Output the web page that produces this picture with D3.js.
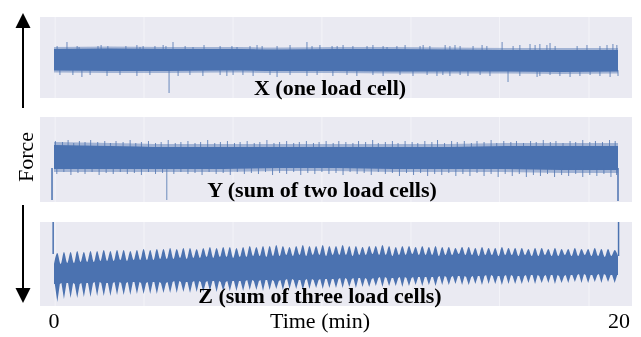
<!DOCTYPE html>
<html>
<head>
<meta charset="utf-8">
<script src="https://cdn.jsdelivr.net/npm/d3@7"></script>
<style>
  body { margin: 0; background: #fff; }
  svg { display: block; }
  .panel-label { font-family: "Liberation Serif", "Times New Roman", serif; font-weight: bold; font-size: 22px; }
  .axis-text { font-family: "Liberation Serif", "Times New Roman", serif; font-size: 22px; }
</style>
</head>
<body>
<svg id="chart" width="641" height="337"></svg>
<script>
// ---- data (force in arbitrary units, time in minutes) ----
const timeDomain = [0, 20];
const gridTimes = [0.04, 3.19, 6.35, 9.5, 12.66, 15.8, 18.97];
const bandTimes = [0, 2, 4, 6, 8, 10, 12, 14, 16, 18, 20];

// X (one load cell)
const xCoreTop = [49, 49.5, 49, 49, 48.5, 49, 49, 48.5, 48, 48, 48];
const xCoreBot = [27.5, 27, 27, 27.5, 27, 27, 26.5, 26.5, 26.5, 26, 26.5];
const xSpikesUp = [[0.11,52],[0.46,56],[0.82,52],[0.89,51],[1.56,52],[1.67,53],[1.91,52],[2.55,52],[2.94,53],[3.05,51],[3.16,52],[3.58,52],[3.87,53],[3.97,52],[4.22,56],[4.65,52],[4.93,51],[5.32,53],[5.89,52],[6.31,52],[6.49,51],[6.95,52],[7.2,53],[7.38,52],[7.91,52],[8.37,53],[8.97,56],[9.15,52],[9.43,53],[9.86,52],[10.04,52],[10.25,53],[10.6,52],[11.1,52],[11.31,53],[11.67,52],[11.81,51],[12.16,52],[12.45,53],[12.98,52],[13.09,53],[13.33,52],[13.87,53],[14.04,52],[14.22,53],[14.4,52],[14.86,52],[15.18,53],[15.35,52],[15.89,56],[16.28,52],[16.52,53],[16.88,54],[17.06,53],[17.23,54],[17.48,53],[17.59,55],[17.77,52],[18.55,52],[18.9,53],[19.36,52],[19.61,53],[19.82,54],[19.96,53]];
const xSpikesDown = [[0.21,23],[0.67,23],[0.99,21],[1.28,23],[1.88,22],[2.34,23],[2.94,22],[3.4,23],[4.08,5],[4.4,22],[4.82,23],[5.28,22],[5.89,23],[6.13,22],[6.35,23],[6.7,23],[7.06,22],[7.66,23],[7.91,21],[8.37,23],[8.97,22],[9.33,23],[9.89,22],[10.39,23],[10.74,22],[11.31,23],[11.67,22],[12.27,23],[12.73,22],[13.23,23],[13.58,22],[13.79,23],[14.04,22],[14.4,23],[14.68,22],[15.11,23],[15.46,22],[16.1,16],[16.52,22],[17.13,21],[17.23,22],[17.59,23],[17.94,22],[18.3,21],[18.65,22],[19.01,23],[19.36,22],[19.72,21],[20.0,22]];

// Y (sum of two load cells)
const yCoreTop = [57, 56, 55, 55, 55, 55, 55, 55, 56, 56, 56];
const yCoreBot = [33, 33, 33, 33, 34, 34, 33, 33, 33, 32, 32];
const ySpikesUp = [[0.05,61],[0.3,60],[0.5,62],[0.7,59],[0.9,61],[1.1,60],[1.3,62],[1.55,60],[1.8,61],[2.0,59],[2.2,61],[2.45,60],[2.7,62],[2.9,59],[3.1,60],[3.35,61],[3.6,59],[3.8,60],[4.05,62],[4.3,59],[4.5,60],[4.75,61],[5.0,59],[5.2,60],[5.45,62],[5.7,59],[5.9,60],[6.15,61],[6.4,59],[6.6,60],[6.85,61],[7.1,59],[7.3,60],[7.55,62],[7.8,59],[8.0,60],[8.25,61],[8.5,59],[8.7,60],[8.95,61],[9.2,59],[9.4,60],[9.65,61],[9.9,59],[10.1,61],[10.35,60],[10.6,59],[10.8,61],[11.05,60],[11.3,62],[11.5,59],[11.75,60],[12.0,61],[12.2,59],[12.45,61],[12.7,60],[12.9,59],[13.15,61],[13.4,60],[13.6,62],[13.85,59],[14.1,61],[14.3,60],[14.55,61],[14.8,59],[15.0,61],[15.25,60],[15.5,62],[15.7,59],[15.95,61],[16.2,60],[16.4,61],[16.65,59],[16.9,61],[17.1,60],[17.35,62],[17.6,60],[17.8,61],[18.05,59],[18.3,61],[18.5,60],[18.75,62],[19.0,60],[19.2,61],[19.45,60],[19.7,62],[19.9,61]];
const ySpikesDown = [[0.1,28],[0.35,30],[0.6,27],[0.85,29],[1.1,28],[1.35,30],[1.6,27],[1.85,29],[2.1,28],[2.35,30],[2.6,28],[2.85,29],[3.1,27],[3.35,30],[3.6,28],[3.85,29],[4.0,2],[4.25,28],[4.5,30],[4.75,28],[5.0,29],[5.25,27],[5.5,30],[5.75,28],[6.0,29],[6.25,27],[6.5,30],[6.75,28],[7.0,29],[7.25,28],[7.5,30],[7.75,27],[8.0,29],[8.25,28],[8.5,30],[8.75,27],[9.0,29],[9.25,28],[9.5,30],[9.75,28],[10.0,29],[10.25,27],[10.5,30],[10.75,28],[11.0,29],[11.25,27],[11.5,30],[11.75,28],[12.0,29],[12.25,26],[12.5,29],[12.75,27],[13.0,29],[13.25,26],[13.5,28],[13.75,27],[14.0,29],[14.25,26],[14.5,28],[14.75,26],[15.0,29],[15.25,26],[15.5,28],[15.75,25],[16.0,28],[16.25,26],[16.5,28],[16.75,25],[17.0,27],[17.25,26],[17.5,28],[17.75,25],[18.0,27],[18.25,26],[18.5,28],[18.75,25],[19.0,27],[19.25,26],[19.5,28],[19.75,25],[19.95,27]];
const yEdges = [[-0.07, 34, 2], [20.0, 34, 1]];

// Z (sum of three load cells): per oscillation cycle
const zTopPeak = [53,54,54,55,54,55,55,56,55,56,56,55,56,57, 56,57,57,58,57,58,58,57,58,59,58,59,59,58, 59,60,59,60,60,61,60,59,60,61,60,60,61,60, 60,61,60,60,59,60,60,61,60,59,60,60,59,60, 59,60,59,59,58,59,59,58,59,58,58,59,58,58, 58,57,58,58,57,58,57,57,58,57,57,58,57,57,56];
const zTopValley = [42,43,43,44,44,44,45,45,45,46,45,46,46,46, 46,47,47,47,48,47,48,48,49,48,49,49,48,49, 49,50,50,49,50,50,51,50,51,50,51,51,50,51, 51,51,50,51,51,52,51,51,50,51,51,52,51,51, 51,50,51,51,52,51,51,50,51,51,50,51,51,50, 51,50,50,51,50,50,51,50,50,51,50,50,49,50,50];
const zBotValley = [22,23,23,22,23,23,24,23,23,24,23,24,24,23, 24,24,23,24,25,24,24,25,24,25,25,24,25,25, 25,26,25,26,26,25,26,27,26,26,27,26,27,27, 27,28,27,28,28,27,28,29,28,28,29,28,29,29, 29,29,30,29,30,30,29,30,30,31,30,30,31,30, 30,31,31,30,31,31,30,31,31,32,31,31,32,31,31];
const zBotPeak = [4,7,8,8,9,9,10,10,10,11,11,11,12,12, 12,12,13,13,13,14,13,14,14,15,14,15,15,15, 15,16,16,15,16,17,16,17,17,16,17,18,17,18, 18,18,19,18,19,19,20,19,20,20,19,20,21,20, 21,20,21,21,22,21,21,22,21,22,22,21,22,22, 22,23,22,23,23,22,23,23,24,23,23,24,23,24,23];
const zEdges = [[-0.03, 52, 84], [20.02, 50, 84]];

const labels = ["X (one load cell)", "Y (sum of two load cells)", "Z (sum of three load cells)"];
const axisTicks = [0, 20];

// ---- layout ----
const blue = "#4C72B0";
const bg = "#EAEAF2";
const svg = d3.select("#chart");
const plotLeft = 40, plotRight = 632;

const x = d3.scaleLinear().domain(timeDomain).range([54, 618]);

const panels = [
  { top: 17, bottom: 98, label: labels[0], labelX: 330, labelY: 95, fringe: 2 },
  { top: 117, bottom: 202, label: labels[1], labelX: 322, labelY: 197, fringe: 3 },
  { top: 222, bottom: 306, label: labels[2], labelX: 320, labelY: 303 }
];
panels.forEach(p => {
  p.y = d3.scaleLinear().domain([0, p.bottom - p.top]).range([p.bottom, p.top]);
});

const defs = svg.append("defs");
defs.append("filter").attr("id", "soft")
  .append("feGaussianBlur").attr("stdDeviation", 0.6);

// Panel backgrounds and grid
panels.forEach(p => {
  svg.append("rect")
    .attr("x", plotLeft).attr("y", p.top)
    .attr("width", plotRight - plotLeft).attr("height", p.bottom - p.top)
    .attr("fill", bg);
  svg.append("g").selectAll("line")
    .data(gridTimes).enter().append("line")
    .attr("x1", d => x(d)).attr("x2", d => x(d))
    .attr("y1", p.top).attr("y2", p.bottom)
    .attr("stroke", "#fff").attr("stroke-width", 1).attr("opacity", 0.45);
});

// band + fringe + spikes for X and Y
function drawBand(p, coreTop, coreBot, up, down) {
  const g = svg.append("g").attr("filter", "url(#soft)");
  const rows = bandTimes.map((t, i) => ({ t, hi: coreTop[i], lo: coreBot[i] }));
  const fringeArea = d3.area()
    .x(d => x(d.t)).y0(d => p.y(d.lo) + p.fringe).y1(d => p.y(d.hi) - p.fringe)
    .curve(d3.curveMonotoneX);
  g.append("path").datum(rows).attr("d", fringeArea).attr("fill", blue).attr("opacity", 0.45);
  const area = d3.area()
    .x(d => x(d.t)).y0(d => p.y(d.lo)).y1(d => p.y(d.hi))
    .curve(d3.curveMonotoneX);
  g.append("path").datum(rows).attr("d", area).attr("fill", blue);

  const upBase = d3.mean(coreTop) - 1;
  const downBase = d3.mean(coreBot) + 1;
  g.selectAll(".up").data(up).enter().append("line")
    .attr("x1", d => x(d[0])).attr("x2", d => x(d[0]))
    .attr("y1", p.y(upBase)).attr("y2", d => p.y(d[1]))
    .attr("stroke", blue).attr("stroke-width", 1).attr("opacity", 0.8);
  g.selectAll(".down").data(down).enter().append("line")
    .attr("x1", d => x(d[0])).attr("x2", d => x(d[0]))
    .attr("y1", p.y(downBase)).attr("y2", d => p.y(d[1]))
    .attr("stroke", blue).attr("stroke-width", 1).attr("opacity", 0.8);
  return g;
}

drawBand(panels[0], xCoreTop, xCoreBot, xSpikesUp, xSpikesDown);
const gy = drawBand(panels[1], yCoreTop, yCoreBot, ySpikesUp, ySpikesDown);
gy.selectAll(".edge").data(yEdges).enter().append("line")
  .attr("x1", d => x(d[0])).attr("x2", d => x(d[0]))
  .attr("y1", d => panels[1].y(d[1])).attr("y2", d => panels[1].y(d[2]))
  .attr("stroke", blue).attr("stroke-width", 1.5);

// Z oscillating band: rounded bumps on top, pointed dips underneath
(function () {
  const p = panels[2];
  const n = zTopPeak.length;
  const period = (timeDomain[1] - timeDomain[0]) / n;
  const topPts = [[0, zTopValley[0]]];
  const botPts = [[0, zBotValley[0]]];
  for (let i = 0; i < n; i++) {
    topPts.push([(i + 0.5) * period, zTopPeak[i]]);
    topPts.push([(i + 1) * period, zTopValley[i]]);
    botPts.push([(i + 0.12) * period, zBotValley[i]]);
    botPts.push([(i + 0.5) * period, zBotPeak[i]]);
    botPts.push([(i + 0.88) * period, zBotValley[i]]);
  }
  botPts.push([n * period, zBotValley[n - 1]]);
  const topLine = d3.line().x(d => x(d[0])).y(d => p.y(d[1])).curve(d3.curveMonotoneX);
  const botLine = d3.line().x(d => x(d[0])).y(d => p.y(d[1]));
  const path = topLine(topPts) + "L" + botLine(botPts.slice().reverse()).slice(1) + "Z";
  const g = svg.append("g").attr("filter", "url(#soft)");
  g.append("path").attr("d", path).attr("fill", blue);
  g.selectAll(".edge").data(zEdges).enter().append("line")
    .attr("x1", d => x(d[0])).attr("x2", d => x(d[0]))
    .attr("y1", d => p.y(d[1])).attr("y2", d => p.y(d[2]))
    .attr("stroke", blue).attr("stroke-width", 1.5);
})();

// Panel labels
panels.forEach(p => {
  svg.append("text").attr("class", "panel-label")
    .attr("x", p.labelX).attr("y", p.labelY)
    .attr("text-anchor", "middle").text(p.label);
});

// Time axis text
svg.selectAll(".tick-text").data(axisTicks).enter().append("text")
  .attr("class", "axis-text")
  .attr("x", d => x(d) + (d === 0 ? 0 : 1)).attr("y", 328)
  .attr("text-anchor", "middle").text(d => d);
svg.append("text").attr("class", "axis-text")
  .attr("x", 320).attr("y", 328).attr("text-anchor", "middle").text("Time (min)");

// Force label with arrows
svg.append("text").attr("class", "axis-text")
  .attr("transform", "translate(33,157) rotate(-90)")
  .attr("text-anchor", "middle").text("Force");
svg.append("line").attr("x1", 23).attr("x2", 23).attr("y1", 108).attr("y2", 26)
  .attr("stroke", "#000").attr("stroke-width", 2);
svg.append("path").attr("d", "M23,13 L15.5,28 L30.5,28 Z").attr("fill", "#000");
svg.append("line").attr("x1", 23).attr("x2", 23).attr("y1", 205).attr("y2", 290)
  .attr("stroke", "#000").attr("stroke-width", 2);
svg.append("path").attr("d", "M23,303 L15.5,288 L30.5,288 Z").attr("fill", "#000");
</script>
</body>
</html>
